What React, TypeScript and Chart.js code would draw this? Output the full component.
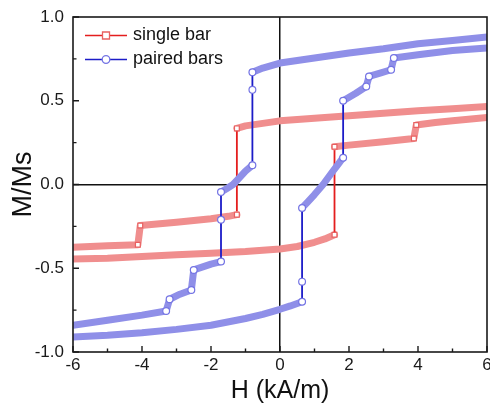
import React, { useEffect, useRef } from 'react';
import { Chart, registerables } from 'chart.js';

Chart.register(...registerables);

// ---- data ----
const seriesNames = ['single bar', 'paired bars'];

// single bar, field sweeping down (6 -> -6)
const singleDownH = [6, 5, 4, 3, 2, 1, 0, -0.5, -1, -1.25, -1.25, -1.5, -2, -3, -4.05, -4.12, -5, -6];
const singleDownM = [0.465, 0.452, 0.44, 0.425, 0.41, 0.395, 0.38, 0.365, 0.35, 0.335, -0.18, -0.19, -0.205, -0.225, -0.245, -0.36, -0.365, -0.375];

// single bar, field sweeping up (-6 -> 6)
const singleUpH = [-6, -5, -4, -3, -2, -1, 0, 0.5, 1, 1.3, 1.58, 1.58, 2, 3, 3.88, 3.95, 4.5, 5, 6];
const singleUpM = [-0.445, -0.44, -0.43, -0.42, -0.41, -0.4, -0.385, -0.37, -0.345, -0.325, -0.3, 0.225, 0.235, 0.255, 0.275, 0.355, 0.37, 0.38, 0.4];

// paired bars, field sweeping down (6 -> -6)
const pairedDownH = [6, 5, 4, 3, 2, 1, 0, -0.5, -0.8, -0.8, -0.8, -1.0, -1.2, -1.36, -1.55, -1.71, -1.71, -1.71, -2.0, -2.5, -2.57, -2.9, -3.2, -3.3, -4, -5, -6];
const pairedDownM = [0.88, 0.86, 0.84, 0.81, 0.785, 0.755, 0.725, 0.695, 0.67, 0.565, 0.115, 0.08, 0.035, 0.0, -0.025, -0.045, -0.21, -0.46, -0.475, -0.51, -0.63, -0.655, -0.685, -0.755, -0.78, -0.81, -0.84];

// paired bars, field sweeping up (-6 -> 6)
const pairedUpH = [-6, -5, -4, -3, -2, -1, -0.5, 0, 0.3, 0.64, 0.64, 0.64, 0.8, 1.0, 1.25, 1.5, 1.7, 1.83, 1.83, 2.2, 2.5, 2.58, 2.9, 3.22, 3.3, 4, 5, 6];
const pairedUpM = [-0.91, -0.9, -0.885, -0.865, -0.84, -0.8, -0.775, -0.745, -0.725, -0.7, -0.58, -0.14, -0.105, -0.06, 0.0, 0.07, 0.125, 0.16, 0.5, 0.545, 0.585, 0.645, 0.665, 0.685, 0.755, 0.775, 0.8, 0.815];

const xMin = -6;
const xMax = 6;
const yMin = -1;
const yMax = 1;
const xTitle = 'H (kA/m)';
const yTitle = 'M/Ms';

// ---- styles ----
const FONT = "'Liberation Sans', Arial, Helvetica, sans-serif";
const RED_BAND = '#f08e8e';
const RED_LINE = '#e41e1e';
const RED_MARK = '#e86060';
const BLUE_BAND = '#8f8fe8';
const BLUE_LINE = '#1c1cc8';
const BLUE_MARK = '#7474e4';

function toPoints(h: number[], m: number[]) {
  return h.map((x, i) => ({ x, y: m[i] }));
}

function isMarker(h: number[], i: number) {
  const n = h.length;
  return (i > 0 && Math.abs(h[i] - h[i - 1]) < 0.1) || (i < n - 1 && Math.abs(h[i + 1] - h[i]) < 0.1);
}

function makeDataset(h: number[], m: number[], band: string, line: string, mark: string, style: string) {
  return {
    data: toPoints(h, m),
    showLine: true,
    borderColor: band,
    borderWidth: 7,
    borderJoinStyle: 'round',
    borderCapStyle: 'round',
    segment: {
      borderColor: (ctx: any) => (ctx.p0.parsed.x === ctx.p1.parsed.x ? line : band),
      borderWidth: (ctx: any) => (ctx.p0.parsed.x === ctx.p1.parsed.x ? 1.8 : 7),
    },
    pointStyle: style,
    pointRadius: (ctx: any) => (isMarker(h, ctx.dataIndex) ? 3.4 : 0),
    pointBackgroundColor: '#ffffff',
    pointBorderColor: mark,
    pointBorderWidth: 1.2,
    tension: 0,
  };
}

const framePlugin = {
  id: 'frameTicks',
  afterDatasetsDraw(chart: any) {
    const { ctx, chartArea } = chart;
    const xs = chart.scales.x;
    const ys = chart.scales.y;
    ctx.save();
    ctx.strokeStyle = '#1a1a1a';
    ctx.lineWidth = 1.6;
    ctx.strokeRect(chartArea.left, chartArea.top, chartArea.right - chartArea.left, chartArea.bottom - chartArea.top);
    ctx.lineWidth = 1.4;
    ctx.beginPath();
    for (let v = xMin; v <= xMax; v += 1) {
      const px = xs.getPixelForValue(v);
      const len = v % 2 === 0 ? 6 : 3.5;
      ctx.moveTo(px, chartArea.bottom);
      ctx.lineTo(px, chartArea.bottom - len);
    }
    for (let k = 0; k <= 8; k++) {
      const v = yMin + k * 0.25;
      const py = ys.getPixelForValue(v);
      const len = k % 2 === 0 ? 6 : 3.5;
      ctx.moveTo(chartArea.left, py);
      ctx.lineTo(chartArea.left + len, py);
    }
    ctx.stroke();
    ctx.restore();
  },
  afterDraw(chart: any) {
    const { ctx } = chart;
    const items = [
      { name: seriesNames[0], line: RED_LINE, mark: RED_MARK, y: 35.5, style: 'rect' },
      { name: seriesNames[1], line: BLUE_LINE, mark: BLUE_MARK, y: 59.5, style: 'circle' },
    ];
    ctx.save();
    items.forEach((it) => {
      ctx.strokeStyle = it.line;
      ctx.lineWidth = 1.6;
      ctx.beginPath();
      ctx.moveTo(85, it.y);
      ctx.lineTo(127, it.y);
      ctx.stroke();
      ctx.fillStyle = '#fff';
      ctx.strokeStyle = it.mark;
      ctx.lineWidth = 1.3;
      ctx.beginPath();
      if (it.style === 'rect') {
        ctx.rect(102.5, it.y - 3.5, 7, 7);
      } else {
        ctx.arc(106, it.y, 3.8, 0, Math.PI * 2);
      }
      ctx.fill();
      ctx.stroke();
      ctx.fillStyle = '#111';
      ctx.font = `18px ${FONT}`;
      ctx.textBaseline = 'middle';
      ctx.textAlign = 'left';
      ctx.fillText(it.name, 133, it.y);
    });
    ctx.restore();
  },
};

export default function App() {
  const ref = useRef<HTMLCanvasElement>(null);
  useEffect(() => {
    document.body.style.margin = '0';
    Chart.defaults.font.family = FONT;
    Chart.defaults.color = '#1a1a1a';
    const chart = new Chart(ref.current as HTMLCanvasElement, {
      type: 'scatter',
      data: {
        datasets: [
          makeDataset(pairedUpH, pairedUpM, BLUE_BAND, BLUE_LINE, BLUE_MARK, 'circle'),
          makeDataset(pairedDownH, pairedDownM, BLUE_BAND, BLUE_LINE, BLUE_MARK, 'circle'),
          makeDataset(singleUpH, singleUpM, RED_BAND, RED_LINE, RED_MARK, 'rect'),
          makeDataset(singleDownH, singleDownM, RED_BAND, RED_LINE, RED_MARK, 'rect'),
        ] as any,
      },
      options: {
        responsive: false,
        animation: false,
        layout: { padding: { top: 17, right: 3, left: 0, bottom: 0 } },
        plugins: {
          legend: { display: false },
          tooltip: { enabled: false },
        },
        scales: {
          x: {
            type: 'linear',
            min: xMin,
            max: xMax,
            ticks: {
              stepSize: 1,
              autoSkip: false,
              maxRotation: 0,
              padding: 3,
              font: { size: 17 },
              color: '#1a1a1a',
              callback: (v: any) => (Number(v) % 2 === 0 ? String(v) : ''),
            },
            grid: {
              drawTicks: false,
              lineWidth: 1.5,
              color: (ctx: any) => (ctx.tick && ctx.tick.value === 0 ? '#111' : 'rgba(0,0,0,0)'),
            },
            border: { display: false },
            title: {
              display: true,
              text: xTitle,
              font: { size: 25, lineHeight: 1 },
              padding: { top: 0, bottom: 0 },
              color: '#111',
            },
            afterFit: (s: any) => {
              s.height = 52;
              s.paddingLeft = 0;
              s.paddingRight = 0;
            },
          },
          y: {
            type: 'linear',
            min: yMin,
            max: yMax,
            ticks: {
              stepSize: 0.25,
              autoSkip: false,
              padding: 9,
              font: { size: 17 },
              color: '#1a1a1a',
              callback: (v: any) => {
                const n = Number(v);
                return Math.abs(n * 2 - Math.round(n * 2)) < 1e-9 ? n.toFixed(1) : '';
              },
            },
            grid: {
              drawTicks: false,
              lineWidth: 1.5,
              color: (ctx: any) => (ctx.tick && ctx.tick.value === 0 ? '#111' : 'rgba(0,0,0,0)'),
            },
            border: { display: false },
            title: {
              display: true,
              text: yTitle,
              font: { size: 27, lineHeight: 1 },
              padding: { top: 10, bottom: 0 },
              color: '#111',
            },
            afterFit: (s: any) => {
              s.width = 73;
              s.paddingTop = 0;
              s.paddingBottom = 0;
            },
          },
        },
      },
      plugins: [framePlugin],
    } as any);
    return () => chart.destroy();
  }, []);
  return (
    <div style={{ width: 490, height: 404 }}>
      <canvas ref={ref} width={490} height={404} style={{ display: 'block' }} />
    </div>
  );
}
